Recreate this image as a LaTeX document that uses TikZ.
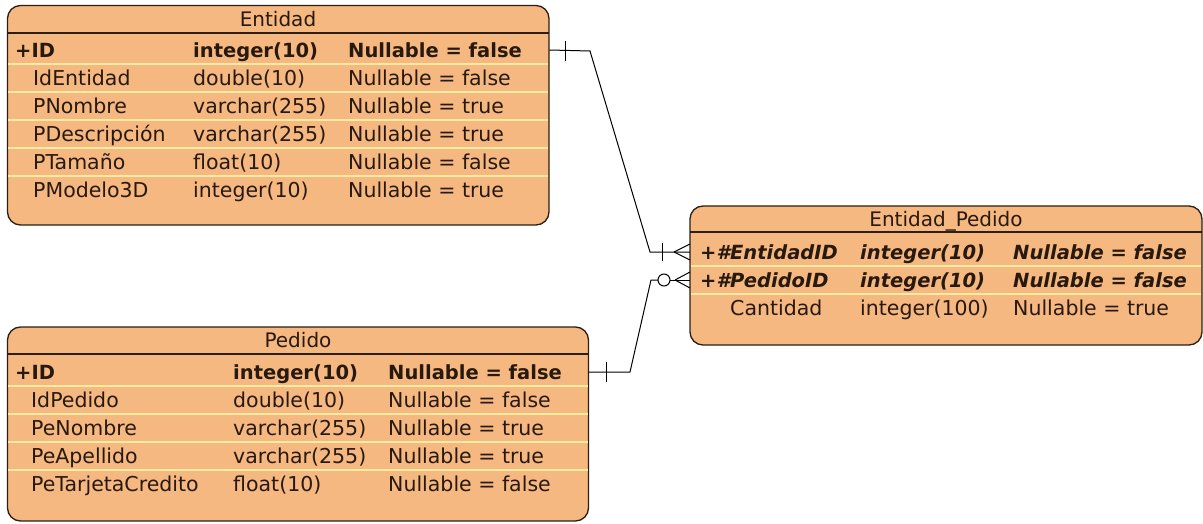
\documentclass[tikz,border=0pt]{standalone}
\usepackage{fontspec}
\setmainfont{DejaVu Sans}
\definecolor{tblfill}{RGB}{245,184,128}
\definecolor{tblline}{RGB}{45,30,20}
\definecolor{rowsep}{RGB}{255,236,160}
\definecolor{txt}{RGB}{40,25,15}
\tikzset{
  tbl/.style={draw=tblline, line width=1.3pt, fill=tblfill, rounded corners=13pt},
  hdr/.style={draw=tblline, line width=1.3pt},
  sep/.style={draw=rowsep, line width=1.6pt},
  cell/.style={anchor=west, inner sep=0pt, text height=14.5pt, text depth=0pt,
    text=txt, font=\fontsize{20.5}{24}\selectfont},
  title/.style={anchor=center, inner sep=0pt, text height=14.5pt, text depth=0pt,
    text=txt, font=\fontsize{20}{24}\selectfont},
  key/.style={cell, font=\fontsize{19.5}{24}\selectfont\bfseries},
  fkey/.style={cell, font=\fontsize{19.5}{24}\selectfont\bfseries\itshape},
  conn/.style={draw=black, line width=1pt}
}
\begin{document}
\begin{tikzpicture}[x=1pt,y=-1pt]
\useasboundingbox (0,0) rectangle (1203,524);

% ---- table Entidad ----
\path[tbl] (7.5,5.5) rectangle (549,225);
\node[inner sep=0pt, minimum width=541.5pt, minimum height=219.5pt, anchor=north west] (ent) at (7.5,5.5) {};
\foreach \y in {64,92,120,148,176} \draw[sep] (8.2,\y) -- (548.3,\y);
\draw[hdr] (7.5,33) -- (549,33);
\node[title] (entT) at (278,19) {Entidad};
\node[key] (eid)  at (15,50) {+ID};
\node[key] (eidt) at (193,50) {integer(10)};
\node[key] (eidn) at (348,50) {Nullable = false};
\node[cell] (e2a) at (33,78) {IdEntidad};
\node[cell] (e2b) at (193,78) {double(10)};
\node[cell] (e2c) at (348,78) {Nullable = false};
\node[cell] (e3a) at (33,106) {PNombre};
\node[cell] (e3b) at (193,106) {varchar(255)};
\node[cell] (e3c) at (348,106) {Nullable = true};
\node[cell] (e4a) at (33,134) {PDescripción};
\node[cell] (e4b) at (193,134) {varchar(255)};
\node[cell] (e4c) at (348,134) {Nullable = true};
\node[cell] (e5a) at (33,162) {PTamaño};
\node[cell] (e5b) at (193,162) {float(10)};
\node[cell] (e5c) at (348,162) {Nullable = false};
\node[cell] (e6a) at (33,190) {PModelo3D};
\node[cell] (e6b) at (193,190) {integer(10)};
\node[cell] (e6c) at (348,190) {Nullable = true};

% ---- table Entidad_Pedido ----
\path[tbl] (690,206) rectangle (1202,345);
\node[inner sep=0pt, minimum width=512pt, minimum height=139pt, anchor=north west] (ep) at (690,206) {};
\foreach \y in {266,294} \draw[sep] (690.7,\y) -- (1201.3,\y);
\draw[hdr] (690,232) -- (1202,232);
\node[title] (epT) at (946,219.5) {Entidad\_Pedido};
\node[fkey] (epe)  at (700,252) {+\#EntidadID};
\node[fkey] (epet) at (860,252) {integer(10)};
\node[fkey] (epen) at (1013,252) {Nullable = false};
\node[fkey] (epp)  at (700,280) {+\#PedidoID};
\node[fkey] (eppt) at (860,280) {integer(10)};
\node[fkey] (eppn) at (1013,280) {Nullable = false};
\node[cell] (epc)  at (730,308) {Cantidad};
\node[cell] (epct) at (860,308) {integer(100)};
\node[cell] (epcn) at (1013,308) {Nullable = true};

% ---- table Pedido ----
\path[tbl] (7.5,327) rectangle (588.5,521);
\node[inner sep=0pt, minimum width=581pt, minimum height=194pt, anchor=north west] (ped) at (7.5,327) {};
\foreach \y in {386,414,442,470} \draw[sep] (8.2,\y) -- (587.8,\y);
\draw[hdr] (7.5,354) -- (588.5,354);
\node[title] (pedT) at (298,340.5) {Pedido};
\node[key] (pid)  at (15,372) {+ID};
\node[key] (pidt) at (233,372) {integer(10)};
\node[key] (pidn) at (388,372) {Nullable = false};
\node[cell] (p2a) at (31,400) {IdPedido};
\node[cell] (p2b) at (233,400) {double(10)};
\node[cell] (p2c) at (388,400) {Nullable = false};
\node[cell] (p3a) at (31,428) {PeNombre};
\node[cell] (p3b) at (233,428) {varchar(255)};
\node[cell] (p3c) at (388,428) {Nullable = true};
\node[cell] (p4a) at (31,456) {PeApellido};
\node[cell] (p4b) at (233,456) {varchar(255)};
\node[cell] (p4c) at (388,456) {Nullable = true};
\node[cell] (p5a) at (31,484) {PeTarjetaCredito};
\node[cell] (p5b) at (233,484) {float(10)};
\node[cell] (p5c) at (388,484) {Nullable = false};

% ---- relationship Entidad -> Entidad_Pedido (one to many) ----
\coordinate (r1a) at (590,51);
\coordinate (r1b) at (650,252);
\draw[conn] (ent.east |- eid) -- (r1a) -- (r1b) -- (ep.west |- epe);
% one: tick next to Entidad
\draw[conn] (565,41) -- (565,61);
% mandatory many: tick and crow's foot next to Entidad_Pedido
\draw[conn] (662,243) -- (662,261);
\draw[conn] (ep.west |- epe) ++(-16,0) coordinate (cf1) -- ++(16,-8) (cf1) -- ++(16,8);

% ---- relationship Pedido -> Entidad_Pedido (one to zero-or-many) ----
\coordinate (r2a) at (630,372);
\coordinate (r2b) at (651,280);
\draw[conn] (ped.east |- pid) -- (r2a) -- (r2b) -- (658,280);
\draw[conn] (606,362) -- (606,382);
\draw[conn] (664,280) circle (6);
\draw[conn] (670,280) -- (ep.west |- epp);
\draw[conn] (ep.west |- epp) ++(-15,0) coordinate (cf2) -- ++(15,-8) (cf2) -- ++(15,8);
\end{tikzpicture}
\end{document}
